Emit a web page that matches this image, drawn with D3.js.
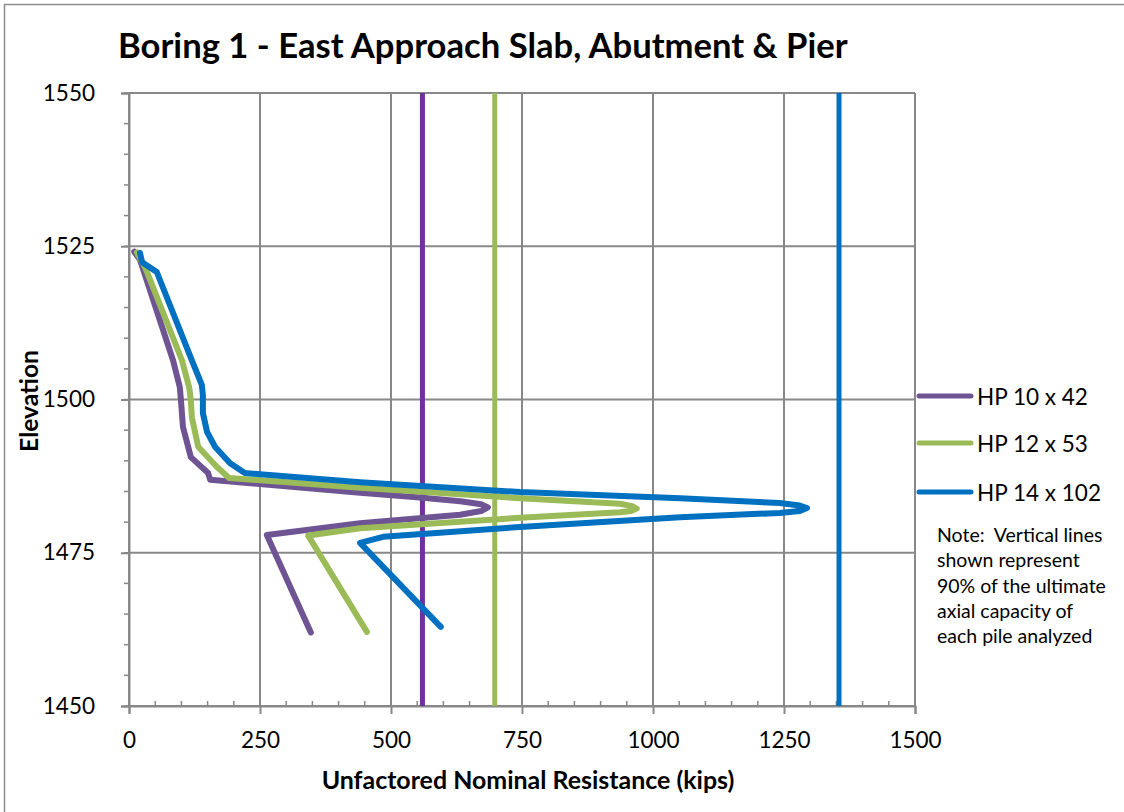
<!DOCTYPE html>
<html><head><meta charset="utf-8">
<script src="https://cdn.jsdelivr.net/npm/d3@7"></script>
<style>body{margin:0;background:#fff;} svg{display:block;font-family:Lato,"Open Sans",sans-serif;} text{white-space:pre;}</style>
</head><body>
<svg id="chart" width="1124" height="812"></svg>
<script>
const title = "Boring 1 - East Approach Slab, Abutment & Pier";
const xTitle = "Unfactored Nominal Resistance (kips)";
const yTitle = "Elevation";
const xTicks = [0, 250, 500, 750, 1000, 1250, 1500];
const yTicks = [1450, 1475, 1500, 1525, 1550];
const seriesNames = ["HP 10 x 42", "HP 12 x 53", "HP 14 x 102"];
const seriesColors = ["#6F5493", "#9BBB59", "#0070C0"];
const capacityColors = ["#7030A0", "#9BBB59", "#0070C0"];
const capacities = [560, 698, 1355];
const noteLines = ["Note:  Vertical lines", "shown represent", "90% of the ultimate", "axial capacity of", "each pile analyzed"];

const hp10Res  = [10, 21, 84, 97, 99, 103, 118, 151, 155, 441, 555, 632, 672, 685, 672, 632, 441, 263, 347];
const hp10Elev = [1524.1, 1522.8, 1506.4, 1502.0, 1500.0, 1495.5, 1490.6, 1488.0, 1486.9, 1484.8, 1484.0, 1483.4, 1482.9, 1482.4, 1481.8, 1481.2, 1479.8, 1477.9, 1462.0];
const hp12Res  = [15, 31, 101, 115, 118, 120, 132, 168, 191, 441, 746, 937, 960, 969, 958, 937, 746, 441, 342, 454];
const hp12Elev = [1524.0, 1521.5, 1506.4, 1501.9, 1499.9, 1497.1, 1492.3, 1489.0, 1487.2, 1485.6, 1483.9, 1483.0, 1482.6, 1482.2, 1481.8, 1481.6, 1480.7, 1479.0, 1477.8, 1462.1];
const hp14Res  = [21, 25, 53, 120, 139, 141, 141, 149, 164, 193, 221, 441, 746, 1052, 1242, 1280, 1294, 1280, 1242, 1052, 746, 613, 485, 441, 595];
const hp14Elev = [1523.9, 1522.4, 1520.8, 1506.4, 1502.4, 1500.7, 1497.8, 1494.7, 1492.3, 1489.6, 1488.0, 1486.5, 1484.9, 1483.9, 1483.1, 1482.7, 1482.3, 1481.8, 1481.5, 1480.8, 1479.2, 1478.4, 1477.6, 1476.6, 1462.9];

const seriesData = [
  d3.zip(hp10Res, hp10Elev),
  d3.zip(hp12Res, hp12Elev),
  d3.zip(hp14Res, hp14Elev)
];

const svg = d3.select("#chart");
const L = 129, T = 93, W = 786, H = 613;
const x = d3.scaleLinear().domain([0, 1500]).range([L, L + W]);
const y = d3.scaleLinear().domain([1450, 1550]).range([T + H, T]);
const grid = "#888888";

// outer border
svg.append("rect").attr("x", 4.5).attr("y", 4.5).attr("width", 1130).attr("height", 820)
  .attr("fill", "none").attr("stroke", "#8c8c8c").attr("stroke-width", 1.5);

function fitText(sel, width) {
  const w = sel.node().getComputedTextLength();
  const fs = parseFloat(sel.attr("font-size"));
  const nf = fs * width / w;
  sel.attr("font-size", nf);
  return nf;
}

// gridlines
svg.append("g").selectAll("line").data(xTicks).join("line")
  .attr("x1", d => x(d)).attr("x2", d => x(d)).attr("y1", T).attr("y2", T + H)
  .attr("stroke", grid).attr("stroke-width", 2);
svg.append("g").selectAll("line").data(yTicks).join("line")
  .attr("x1", L).attr("x2", L + W).attr("y1", d => y(d)).attr("y2", d => y(d))
  .attr("stroke", grid).attr("stroke-width", 2);

// minor ticks
const yMinor = d3.range(1450, 1551, 5);
svg.append("g").selectAll("line").data(yMinor).join("line")
  .attr("x1", L - 5).attr("x2", L).attr("y1", d => y(d)).attr("y2", d => y(d))
  .attr("stroke", grid).attr("stroke-width", 1.5);
const xMinor = d3.range(0, 1501, 50);
svg.append("g").selectAll("line").data(xMinor).join("line")
  .attr("x1", d => x(d)).attr("x2", d => x(d)).attr("y1", T + H - 5).attr("y2", T + H)
  .attr("stroke", grid).attr("stroke-width", 1.5);

// axes with major ticks
const xAxis = svg.append("g").attr("transform", `translate(0,${T + H})`)
  .call(d3.axisBottom(x).tickValues(xTicks).tickSize(8).tickPadding(18).tickFormat(d3.format("d")));
const yAxis = svg.append("g").attr("transform", `translate(${L},0)`)
  .call(d3.axisLeft(y).tickValues(yTicks).tickSize(8).tickPadding(26).tickFormat(d3.format("d")));
[xAxis, yAxis].forEach(a => {
  a.select(".domain").attr("stroke", grid).attr("stroke-width", 2);
  a.selectAll(".tick line").attr("stroke", grid).attr("stroke-width", 2);
  a.selectAll(".tick text").attr("fill", "#000").attr("font-size", 22.5).attr("font-family", "Lato");
});

// capacity vertical lines
svg.append("g").selectAll("line").data(capacities).join("line")
  .attr("x1", d => x(d)).attr("x2", d => x(d)).attr("y1", T).attr("y2", T + H)
  .attr("stroke", (d, i) => capacityColors[i]).attr("stroke-width", 5);

// series
const line = d3.line().x(d => x(d[0])).y(d => y(d[1])).curve(d3.curveLinear);
svg.append("g").selectAll("path").data(seriesData).join("path")
  .attr("d", line).attr("fill", "none")
  .attr("stroke", (d, i) => seriesColors[i]).attr("stroke-width", 6)
  .attr("stroke-linejoin", "round").attr("stroke-linecap", "round");

// title
const t = svg.append("text").attr("x", 118).attr("y", 58).attr("font-size", 30)
  .attr("font-weight", "bold").attr("font-family", "Lato").text(title);
fitText(t, 730);

// axis titles
const xt = svg.append("text").attr("x", 528).attr("y", 789).attr("text-anchor", "middle")
  .attr("font-size", 20).attr("font-weight", "bold").attr("font-family", "Lato").text(xTitle);
fitText(xt, 413);
const yt = svg.append("text").attr("transform", "translate(38,401) rotate(-90)").attr("text-anchor", "middle")
  .attr("font-size", 20).attr("font-weight", "bold").attr("font-family", "Lato").text(yTitle);
fitText(yt, 102);

// legend
const legY = [396, 443, 492];
const leg = svg.append("g");
let legFs = 22;
seriesNames.forEach((n, i) => {
  leg.append("line").attr("x1", 919).attr("x2", 971).attr("y1", legY[i]).attr("y2", legY[i])
    .attr("stroke", seriesColors[i]).attr("stroke-width", 5).attr("stroke-linecap", "round");
  const tx = leg.append("text").attr("x", 977).attr("y", legY[i] + 9).attr("font-size", legFs)
    .attr("font-family", "Lato").text(n);
  if (i === 0) legFs = fitText(tx, 111);
});

// note
const noteSel = svg.append("g").selectAll("text").data(noteLines).join("text")
  .attr("x", 937).attr("y", (d, i) => 542 + i * 25.3).attr("font-size", 17)
  .attr("font-family", "Lato").text(d => d);
const nfs = fitText(d3.select(noteSel.nodes()[2]), 169);
noteSel.attr("font-size", nfs);
</script>
</body></html>
